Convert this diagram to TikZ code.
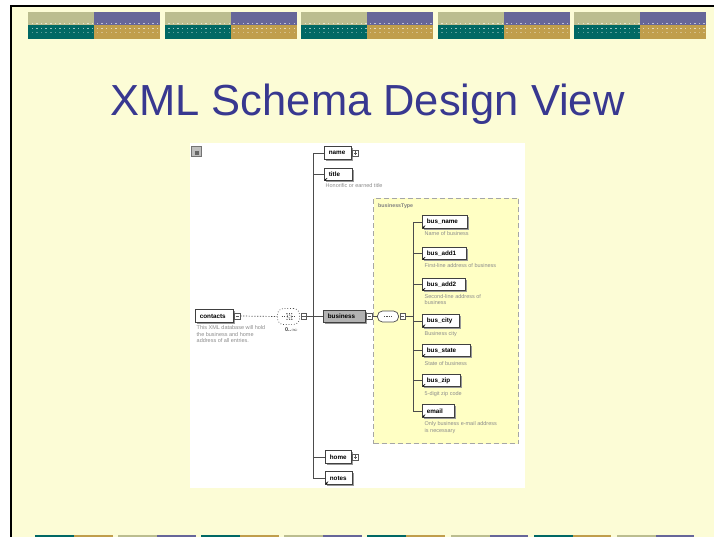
\documentclass[tikz,border=0pt]{standalone}
\usepackage{fontspec}
\setmainfont{Liberation Sans}
\usetikzlibrary{shadows,arrows.meta,shapes.misc}

\definecolor{slidebg}{HTML}{FCFCD6}
\definecolor{dekhaki}{HTML}{BBBD8F}
\definecolor{depurple}{HTML}{666699}
\definecolor{deteal}{HTML}{006864}
\definecolor{degold}{HTML}{C09E4C}
\definecolor{titleblue}{HTML}{383890}
\definecolor{typefill}{HTML}{FFFFC4}

% simple-type marker in the lower left corner of an element box
\newcommand\simpleicon[1]{%
  \draw[line width=0.5pt,-{Stealth[length=1.8pt,width=1.9pt]}]
    ([shift={(3.2pt,3.0pt)}]#1.south west) -- ([shift={(0.7pt,0.5pt)}]#1.south west);}

\begin{document}
\begin{tikzpicture}[x=1pt,y=-1pt,
  elem/.style={draw=black!75, fill=white, line width=0.6pt,
    font=\fontsize{6.3}{6.5}\selectfont\bfseries, minimum height=12.5pt,
    inner ysep=0pt, inner xsep=4.5pt, text width=#1-9pt, align=left, anchor=west,
    drop shadow={shadow xshift=1.6pt, shadow yshift=-1.6pt, fill=black!40, opacity=1}},
  btn/.style={draw=black!65, fill=white, line width=0.5pt, minimum size=5.6pt,
    inner sep=0pt, anchor=west},
  btnplus/.style={btn, path picture={
    \draw[line width=0.4pt] ([xshift=-1.7pt]path picture bounding box.center) -- ([xshift=1.7pt]path picture bounding box.center);
    \draw[line width=0.4pt] ([yshift=-1.7pt]path picture bounding box.center) -- ([yshift=1.7pt]path picture bounding box.center);}},
  btnminus/.style={btn, path picture={
    \draw[line width=0.4pt] ([xshift=-1.7pt]path picture bounding box.center) -- ([xshift=1.7pt]path picture bounding box.center);}},
  note/.style={font=\fontsize{5.5}{6.5}\selectfont, text=black!45,
    anchor=north west, inner sep=0pt, align=left},
  wire/.style={draw=black!70, line width=0.7pt},
  typebox/.style={draw=black!35, fill=typefill, line width=1pt,
    dash pattern=on 5pt off 3pt, anchor=north west, inner sep=0pt},
]
\useasboundingbox (0,0) rectangle (714,537);
\clip (0,0) rectangle (714,537);

% slide background and frame
\fill[white] (0,0) rectangle (714,537);
\fill[slidebg] (11,6) rectangle (714,537);
\draw[line width=2pt] (11,545) -- (11,6) -- (720,6);

% header blocks
\foreach \i in {0,...,4}{
  \pgfmathsetmacro\bx{28+136.6*\i}
  \fill[dekhaki]  (\bx,12) rectangle ++(66,13.5);
  \fill[depurple] (\bx+66,12) rectangle ++(66,13.5);
  \fill[deteal]   (\bx,25.5) rectangle ++(66,13.5);
  \fill[degold]   (\bx+66,25.5) rectangle ++(66,13.5);
  \foreach \k in {0,...,27}{
    \fill[white,opacity=.6]  (\bx+3.5+4.65*\k,22.6) rectangle ++(1.4,1.3);
    \fill[white,opacity=.6]  (\bx+3.5+4.65*\k,28.2) rectangle ++(1.4,1.3);
    \fill[white,opacity=.35] (\bx+3.5+4.65*\k,31.8) rectangle ++(1.4,1.0);
  }
}

% footer bars
\foreach \i in {0,2,4,6}{
  \pgfmathsetmacro\sx{35+83.1*\i}
  \fill[deteal] (\sx,535) rectangle ++(39,6);
  \fill[degold] (\sx+39,535) rectangle ++(38.5,6);
}
\foreach \i in {1,3,5,7}{
  \pgfmathsetmacro\sx{35+83.1*\i}
  \fill[dekhaki]  (\sx,535) rectangle ++(39,6);
  \fill[depurple] (\sx+39,535) rectangle ++(38.5,6);
}

% title
\node[anchor=base, inner sep=0pt, text=titleblue,
  font=\fontsize{43.5}{46}\selectfont] (slidetitle) at (367.5,116) {XML Schema Design View};

% schema diagram panel
\fill[white] (190,143) rectangle (525,488);

% panel corner icon
\node[draw=black!55, fill=black!25, line width=0.6pt, minimum size=10pt,
  inner sep=0pt] (panelicon) at (196.5,151.5) {};
\fill[black!60] (194.5,151.5) rectangle (198.5,155);

% complex type container
\node[typebox, minimum width=145pt, minimum height=245pt] (btype) at (373,198) {};
\node[anchor=north west, inner sep=0pt, text=black!50,
  font=\fontsize{5.3}{6}\selectfont\bfseries] (btypelabel) at (378,203.5) {businessType};

% root element and choice compositor
\node[elem=38pt] (contacts) at (195,316) {contacts};
\node[btnminus] (conbtn) at ([xshift=0.6pt]contacts.east) {};
\node[note] (connote) at (196.5,325.5) {This XML database will hold\\the business and home\\address of all entries.};

\node[draw=black!70, line width=0.7pt, dotted, rounded corners=6pt,
  minimum width=22pt, minimum height=16pt, inner sep=0pt, fill=white,
  path picture={
    \draw[line width=0.5pt] ([xshift=-7pt]path picture bounding box.center) -- ([xshift=-1.5pt]path picture bounding box.center);
    \draw[line width=0.6pt] ([shift={(0.5pt,-3pt)}]path picture bounding box.center) -- ([shift={(-1.5pt,-3pt)}]path picture bounding box.center)
       -- ([shift={(-1.5pt,3pt)}]path picture bounding box.center) -- ([shift={(0.5pt,3pt)}]path picture bounding box.center);
    \draw[line width=0.6pt] ([shift={(1.5pt,-3pt)}]path picture bounding box.center) -- ([shift={(3.2pt,-3pt)}]path picture bounding box.center)
       -- ([shift={(3.2pt,3pt)}]path picture bounding box.center) -- ([shift={(1.5pt,3pt)}]path picture bounding box.center);
    \draw[line width=0.5pt] ([xshift=3.2pt]path picture bounding box.center) -- ([xshift=7pt]path picture bounding box.center);
  }] (choice) at (288.5,316.5) {};
\node[btnminus] (chbtn) at ([xshift=1pt]choice.east) {};
\node[inner sep=0pt, font=\fontsize{5.5}{6}\selectfont\bfseries, text=black!75]
  (chocc) at (291.5,330) {0..$\infty$};

\coordinate (t1) at (313,316.5);

% children of contacts
\node[elem=27pt] (name) at (324,153) {name};
\node[btnplus] (namebtn) at ([xshift=0.8pt]name.east) {};
\node[elem=28pt] (title) at (324,174.5) {title};
\simpleicon{title}
\node[note] (titlenote) at (325.5,183.5) {Honorific or earned title};
\node[elem=42pt, fill=black!30] (business) at (323,316.5) {business};
\node[btnminus] (busbtn) at ([xshift=0.6pt]business.east) {};
\node[elem=26pt] (home) at (325,457) {home};
\node[btnplus] (homebtn) at ([xshift=0.8pt]home.east) {};
\node[elem=27pt] (notes) at (325,478) {notes};
\simpleicon{notes}

% sequence compositor of businessType
\node[draw=black!70, line width=0.7pt, fill=white, rounded corners=5pt,
  minimum width=21pt, minimum height=11pt, inner sep=0pt,
  path picture={\draw[line width=1.1pt, dash pattern=on 1.5pt off 0.9pt]
    ([xshift=-4.2pt]path picture bounding box.center) -- ([xshift=4.2pt]path picture bounding box.center);}]
  (seq) at (388,316.5) {};
\node[btnminus] (seqbtn) at ([xshift=0.8pt]seq.east) {};
\coordinate (t2) at (413,316.5);

% businessType children
\node[elem=45pt] (busname) at (422,222) {bus\_name};
\node[elem=44pt] (busadd1) at (422,253.5) {bus\_add1};
\node[elem=43pt] (busadd2) at (422,284.5) {bus\_add2};
\node[elem=37pt] (buscity) at (422,321) {bus\_city};
\node[elem=48pt] (busstate) at (422,350.5) {bus\_state};
\node[elem=38pt] (buszip) at (422,380.5) {bus\_zip};
\node[elem=32pt] (email) at (422,411) {email};
\foreach \n in {busname,busadd1,busadd2,buscity,busstate,buszip,email}{\simpleicon{\n}}

\node[note] (busnamenote) at (424.5,231.5) {Name of business};
\node[note] (busadd1note) at (424.5,263) {First-line address of business};
\node[note] (busadd2note) at (424.5,294) {Second-line address of\\business};
\node[note] (buscitynote) at (424.5,331) {Business city};
\node[note] (busstatenote) at (424.5,361) {State of business};
\node[note] (buszipnote) at (424.5,391) {5-digit zip code};
\node[note] (emailnote) at (424.5,421.5) {Only business e-mail address\\is necessary};

% connectors
\draw[black!70, line width=0.7pt, dash pattern=on 1.2pt off 1.6pt] (conbtn.east) -- (choice.west);
\draw[wire] (chbtn.east) -- (business.west);
\foreach \n in {name,title,home,notes}{\draw[wire] (t1) |- (\n.west);}
\draw[wire] (busbtn.east) -- (seq.west);
\draw[wire] (seqbtn.east) -- (t2);
\foreach \n in {busname,busadd1,busadd2,buscity,busstate,buszip,email}{\draw[wire] (t2) |- (\n.west);}
\end{tikzpicture}
\end{document}
